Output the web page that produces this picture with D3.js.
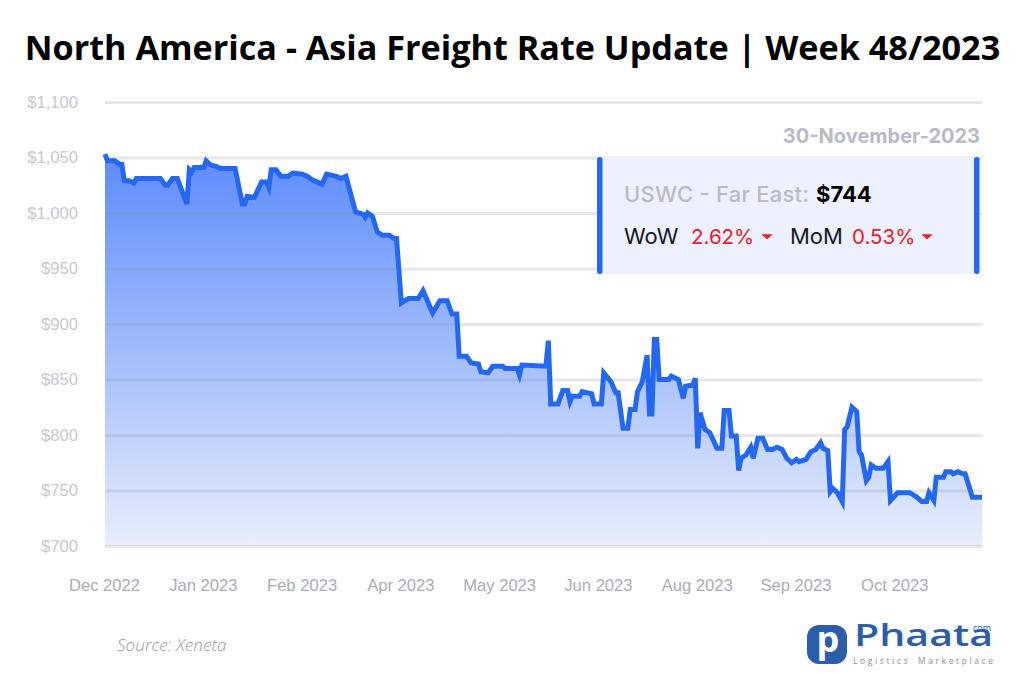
<!DOCTYPE html>
<html>
<head>
<meta charset="utf-8">
<script src="https://cdn.jsdelivr.net/npm/d3@7"></script>
<style>
  html, body { margin: 0; padding: 0; background: #fff; }
  svg { display: block; }
</style>
</head>
<body>
<div id="chart"></div>
<script>
// days since 1 Dec 2022
var dayOffsets = [0,1,4,6,7,8,10,12,13,23,25,26,28,30,34,35,36,37,41,42,44,46,48,54,57,58,59,62,65,67,68,69,71,73,76,78,82,84,86,90,92,96,98,100,104,107,108,109,111,113,115,118,120,121,
  123,126,130,132,136,139,142,144,146,147,150,152,155,156,159,161,165,166,171,172,173,183,184,185,188,190,192,193,194,197,198,202,203,206,207,210,212,213,215,217,218,220,221,223,225,226,227,228,229,230,234,235,238,240,241,244,245,246,247,249,251,254,
  256,257,259,260,262,263,264,266,268,269,271,273,275,277,279,281,283,285,287,288,291,293,295,297,298,300,301,302,304,306,307,308,310,312,313,314,316,317,318,320,323,325,326,329,333,334,337,339,341,342,344,345,348,349,351,352,354,356,357,360,364];
var rates = [1053,1047,1047,1044,1044,1029,1029,1027,1031,1031,1025,1025,1031,1031,1008,1039,1037,1041,1041,1047,1043,1042,1040,1040,1008,1008,1015,1014,1028,1028,1023,1039,1039,1033,1033,1036,1035,1033,1030,1026,1035,1033,1031,1033,1001,999,996,1000,997,983,980,980,977,977,
  919,923,923,930,910,921,921,909,909,871,871,865,864,857,856,862,862,860,860,854,863,862,885,828,828,840,840,830,835,835,839,837,828,828,856,848,838,838,806,806,823,823,839,848,872,819,819,886,886,850,850,853,850,833,844,845,851,788,820,805,802,788,
  788,822,822,799,799,768,779,782,789,779,797,797,787,787,789,787,779,775,778,776,778,785,787,793,788,786,749,752,748,740,805,807,825,821,785,782,759,762,773,770,770,776,741,748,748,748,744,740,740,748,741,762,762,767,767,765,767,765,765,744,744];
var rateTicks = [700,750,800,850,900,950,1000,1050,1100];
var dateTickOffsets = [0,41,82,123,164,205,246,287,328];

var width = 1024, height = 683;
var startDate = new Date(2022, 11, 1);
var points = dayOffsets.map(function(d, i) {
  return { date: d3.timeDay.offset(startDate, d), rate: rates[i] };
});

var x = d3.scaleTime().domain([startDate, d3.timeDay.offset(startDate, 364)]).range([105, 982]);
var y = d3.scaleLinear().domain([700, 1100]).range([546, 102]);

var svg = d3.select("#chart").append("svg").attr("width", width).attr("height", height);

svg.append("text").attr("x", 512.5).attr("y", 60).attr("text-anchor", "middle")
  .style("font", "700 34.2px 'Open Sans'").style("fill", "#000")
  .text("North America - Asia Freight Rate Update | Week 48/2023");

var grad = svg.append("defs").append("linearGradient").attr("id", "areaFill")
  .attr("gradientUnits", "userSpaceOnUse")
  .attr("x1", 0).attr("x2", 0).attr("y1", y(1053)).attr("y2", y(700));
grad.append("stop").attr("offset", "0%").attr("stop-color", "#5c8bfb");
grad.append("stop").attr("offset", "100%").attr("stop-color", "#e8eefd");

svg.append("path").datum(points)
  .attr("d", d3.area().x(function(d) { return x(d.date); }).y0(y(700)).y1(function(d) { return y(d.rate); }))
  .attr("fill", "url(#areaFill)");

// y axis with gridlines
var yAxis = svg.append("g").attr("transform", "translate(105,0)")
  .call(d3.axisLeft(y).tickValues(rateTicks).tickSize(-877).tickPadding(27).tickFormat(d3.format("$,")));
yAxis.select(".domain").remove();
yAxis.selectAll("line").attr("stroke", "#8a93a8").attr("stroke-opacity", 0.22).attr("stroke-width", 3);
yAxis.selectAll("text").style("font", "16.6px 'Liberation Sans'").style("fill", "#c6c9cf");

// x axis
var xAxis = svg.append("g").attr("transform", "translate(-1,546)")
  .call(d3.axisBottom(x)
    .tickValues(dateTickOffsets.map(function(d) { return d3.timeDay.offset(startDate, d); }))
    .tickSize(0).tickPadding(33).tickFormat(d3.timeFormat("%b %Y")));
xAxis.select(".domain").remove();
xAxis.selectAll("text").style("font", "16.6px 'Liberation Sans'").style("fill", "#a9adb5");

svg.append("path").datum(points)
  .attr("d", d3.line().x(function(d) { return x(d.date); }).y(function(d) { return y(d.rate); }))
  .attr("fill", "none").attr("stroke", "#2468f2").attr("stroke-width", 5).attr("stroke-linejoin", "miter");

// summary box
var box = svg.append("g");
box.append("rect").attr("x", 600).attr("y", 157).attr("width", 376).attr("height", 117).attr("fill", "#edf1fd");
[597, 974].forEach(function(bx) {
  box.append("rect").attr("x", bx).attr("y", 157).attr("width", 5.5).attr("height", 117).attr("rx", 2.5).attr("fill", "#2468f2");
});

svg.append("text").attr("x", 980).attr("y", 143).attr("text-anchor", "end")
  .style("font", "700 20px 'Inter'").style("fill", "#b8bbc6").text("30-November-2023");

box.append("text").attr("x", 624).attr("y", 202).style("font", "500 22px 'Inter'").style("fill", "#b8bbc6").attr("textLength", 185).text("USWC - Far East:");
box.append("text").attr("x", 816).attr("y", 202).style("font", "700 22px 'Inter'").style("fill", "#000").text("$744");

box.append("text").attr("x", 624).attr("y", 244).style("font", "22px 'Inter'").style("fill", "#15181f").text("WoW");
box.append("text").attr("x", 691).attr("y", 244).style("font", "20.5px 'Inter'").style("fill", "#e4202c").text("2.62%");
box.append("text").attr("x", 790).attr("y", 244).style("font", "22px 'Inter'").style("fill", "#15181f").text("MoM");
box.append("text").attr("x", 852).attr("y", 244).style("font", "20.5px 'Inter'").style("fill", "#e4202c").text("0.53%");
var tri = d3.symbol().type(d3.symbolTriangle).size(30);
[767, 927].forEach(function(cx) {
  box.append("path").attr("d", tri()).attr("transform", "translate(" + cx + ",236) scale(1.35,0.75) rotate(180)").attr("fill", "#e4202c");
});

svg.append("text").attr("x", 117).attr("y", 651)
  .style("font", "italic 300 17.2px 'Open Sans'").style("fill", "#9a9a9a").text("Source: Xeneta");

// logo
var logo = svg.append("g");
logo.append("rect").attr("x", 807).attr("y", 625).attr("width", 40).attr("height", 39).attr("rx", 12).attr("fill", "#2c5da8");
logo.append("text").attr("x", 828).attr("y", 652).attr("text-anchor", "middle")
  .style("font", "700 36px 'Open Sans'").style("fill", "#fff").text("p");
var brand = logo.append("text").style("font", "600 30px 'Open Sans'").style("fill", "#2c5da8");
brand.append("tspan").attr("x", 854).attr("y", 646).attr("textLength", 139).attr("lengthAdjust", "spacingAndGlyphs").text("Phaata");
brand.append("tspan").attr("x", 973).attr("y", 631).style("font-size", "9px").style("font-weight", 400).text("com");
logo.append("text").attr("x", 853).attr("y", 664).attr("textLength", 140).attr("lengthAdjust", "spacing")
  .style("font", "8.5px 'Open Sans'").style("word-spacing", "3px").style("fill", "#8a8f99").text("Logistics Marketplace");
</script>
</body>
</html>
